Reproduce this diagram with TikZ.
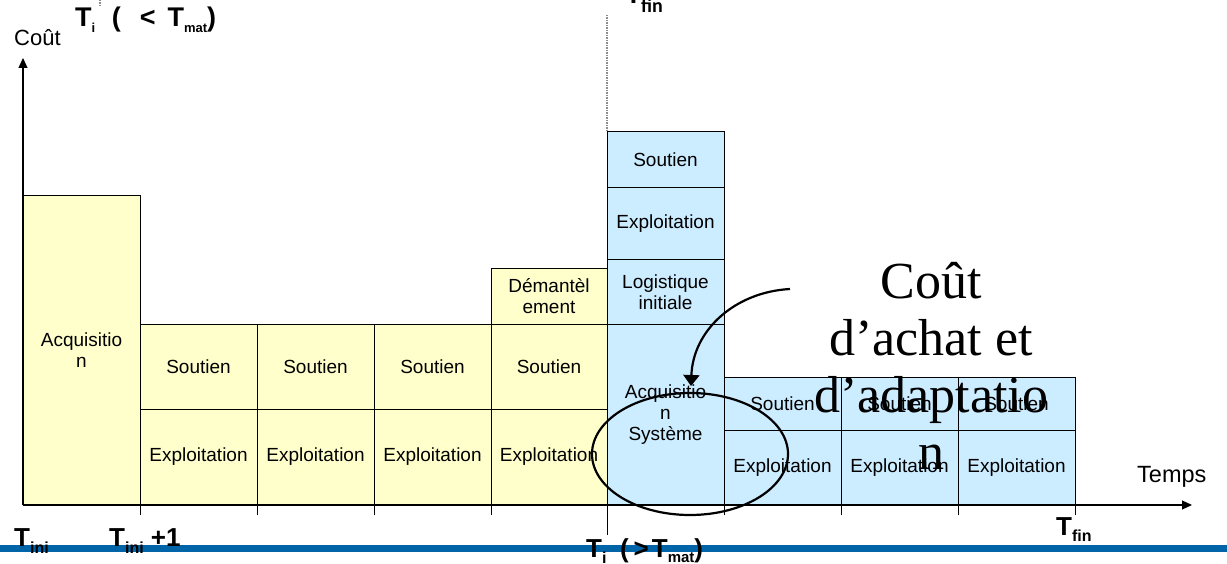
\documentclass[tikz,border=0pt]{standalone}
\usepackage{fontspec}
\setmainfont{Liberation Sans}
\newfontfamily\bigserif{Liberation Serif}
\newfontfamily\calibfont{Carlito}
\usetikzlibrary{arrows.meta}

\definecolor{paleyellow}{HTML}{FFFFCC}
\definecolor{paleblue}{HTML}{CCECFF}
\definecolor{barblue}{HTML}{0064A8}
\definecolor{guidegray}{HTML}{8C8C8C}

% lowered subscript for the time labels: #1 size, #2 drop, #3 text
\newcommand{\lowsub}[3]{\raisebox{-#2}{\fontsize{#1}{#1}\selectfont #3}}
% one cost block: style, name, x0, y0, x1, y1, text
\newcommand{\costcell}[7]{%
  \node[#1, minimum width={(#5-#3)*1pt}, minimum height={(#6-#4)*1pt}]
    (#2) at ({(#3+#5)/2},{(#4+#6)/2}) {#7};}

\tikzset{
  cell/.style={draw=black, line width=1pt, inner sep=0pt, outer sep=0pt,
    align=center, font=\fontsize{19}{21}\selectfont},
  ycell/.style={cell, fill=paleyellow},
  bcell/.style={cell, fill=paleblue},
  axis/.style={line width=1.2pt, -{Triangle[length=10pt,width=9pt]}},
  tick/.style={line width=0.9pt},
  guide/.style={guidegray, line width=1.2pt, dash pattern=on 1.5pt off 1pt},
  timelabel/.style={anchor=base west, inner sep=0pt, font=\bfseries\fontsize{26}{26}\selectfont},
  axislabel/.style={anchor=base west, inner sep=0pt},
  callout/.style={line width=2.2pt},
}

\begin{document}
\begin{tikzpicture}[x=1pt, y=-1pt]
\useasboundingbox (0,0) rectangle (1227,564);

% guide lines at the replacement date
\coordinate (gTop) at (607,15);
\coordinate (gBot) at (607,132);
\draw[guide] (gTop) -- (gBot);
\coordinate (hTop) at (100,0);
\coordinate (hBot) at (100,6);
\draw[guide] (hTop) -- (hBot);

% old system: acquisition, then yearly support and operation, then disposal
\costcell{ycell}{acq}{23}{196}{140}{505}{Acquisitio\\n}
\costcell{ycell}{s1}{140}{324}{257}{409}{Soutien}
\costcell{ycell}{e1}{140}{409}{257}{505}{Exploitation}
\costcell{ycell}{s2}{257}{324}{374}{409}{Soutien}
\costcell{ycell}{e2}{257}{409}{374}{505}{Exploitation}
\costcell{ycell}{s3}{374}{324}{491}{409}{Soutien}
\costcell{ycell}{e3}{374}{409}{491}{505}{Exploitation}
\costcell{ycell}{dem}{491}{269}{607}{324}{Démantèl\\ement}
\costcell{ycell}{s4}{491}{324}{607}{409}{Soutien}
\costcell{ycell}{e4}{491}{409}{607}{505}{Exploitation}

% new system
\costcell{bcell}{ns0}{607}{132}{724}{188}{Soutien}
\costcell{bcell}{ne0}{607}{188}{724}{260}{Exploitation}
\costcell{bcell}{log}{607}{260}{724}{324}{Logistique\\initiale}
\costcell{bcell}{acqs}{607}{324}{724}{505}{Acquisitio\\n\\Système}
\costcell{bcell}{ns1}{724}{377}{841}{430}{Soutien}
\costcell{bcell}{ne1}{724}{430}{841}{505}{Exploitation}
\costcell{bcell}{ns2}{841}{377}{958}{430}{Soutien}
\costcell{bcell}{ne2}{841}{430}{958}{505}{Exploitation}
\costcell{bcell}{ns3}{958}{377}{1075}{430}{Soutien}
\costcell{bcell}{ne3}{958}{430}{1075}{505}{Exploitation}

% axes
\coordinate (O) at (23,505);
\coordinate (yTip) at (23,58);
\coordinate (xTip) at (1192,505);
\draw[axis] (O) -- (yTip);
\draw[axis] (O) -- (xTip);

% yearly ticks
\foreach \tx in {140,257,374,491,724,841,958,1075}{
  \coordinate (ta\tx) at (\tx,505);
  \coordinate (tb\tx) at (\tx,515);
  \draw[tick] (ta\tx) -- (tb\tx);
}
\coordinate (ti0) at (607,505);
\coordinate (ti1) at (607,535);
\draw[tick] (ti0) -- (ti1);

% acquisition callout
\draw[callout] (690,454) ellipse [x radius=98, y radius=61];
\coordinate (cStart) at (790,289);
\coordinate (cEnd) at (691,386);
\draw[callout, -{Triangle[length=11pt,width=16pt]}]
  (cStart) .. controls (735,292) and (693,330) .. (cEnd);
\node[font=\bigserif\fontsize{52}{57}\selectfont, align=center, inner sep=0pt]
  (note) at (931,366) {Coût\\d’achat et\\d’adaptatio\\n};

% footer band
\fill[barblue] (0,545) rectangle (1227,552);

% axis titles
\node[axislabel, font=\fontsize{22}{22}\selectfont] (ylab) at (14,46) {Coût};
\node[axislabel, font=\fontsize{23.5}{23.5}\selectfont] (xlab) at (1137,482) {Temps};

% dates
\node[timelabel, font=\bfseries\fontsize{27}{27}\selectfont] (ttop) at (75,27)
  {T\lowsub{13}{6pt}{i}\hspace{16.5pt}(\hspace{19pt}<\hspace{12pt}T\lowsub{13}{6pt}{mat})};
\node[timelabel, font=\calibfont\bfseries\fontsize{30}{30}\selectfont] (tfinTop) at (626,4)
  {T\lowsub{20}{9pt}{fin}};
\node[timelabel] (tini) at (14,546) {T\lowsub{16}{7pt}{ini}};
\node[timelabel] (tini1) at (109,546) {T\lowsub{16}{7pt}{ini} +1};
\node[timelabel] (tinow) at (586,557)
  {T\lowsub{16}{6pt}{i}\hspace{13.5pt}(\hspace{5pt}>\hspace{3pt}T\lowsub{15}{5pt}{mat})};
\node[timelabel] (tfin) at (1056,535) {T\lowsub{16}{6pt}{fin}};
\end{tikzpicture}
\end{document}
